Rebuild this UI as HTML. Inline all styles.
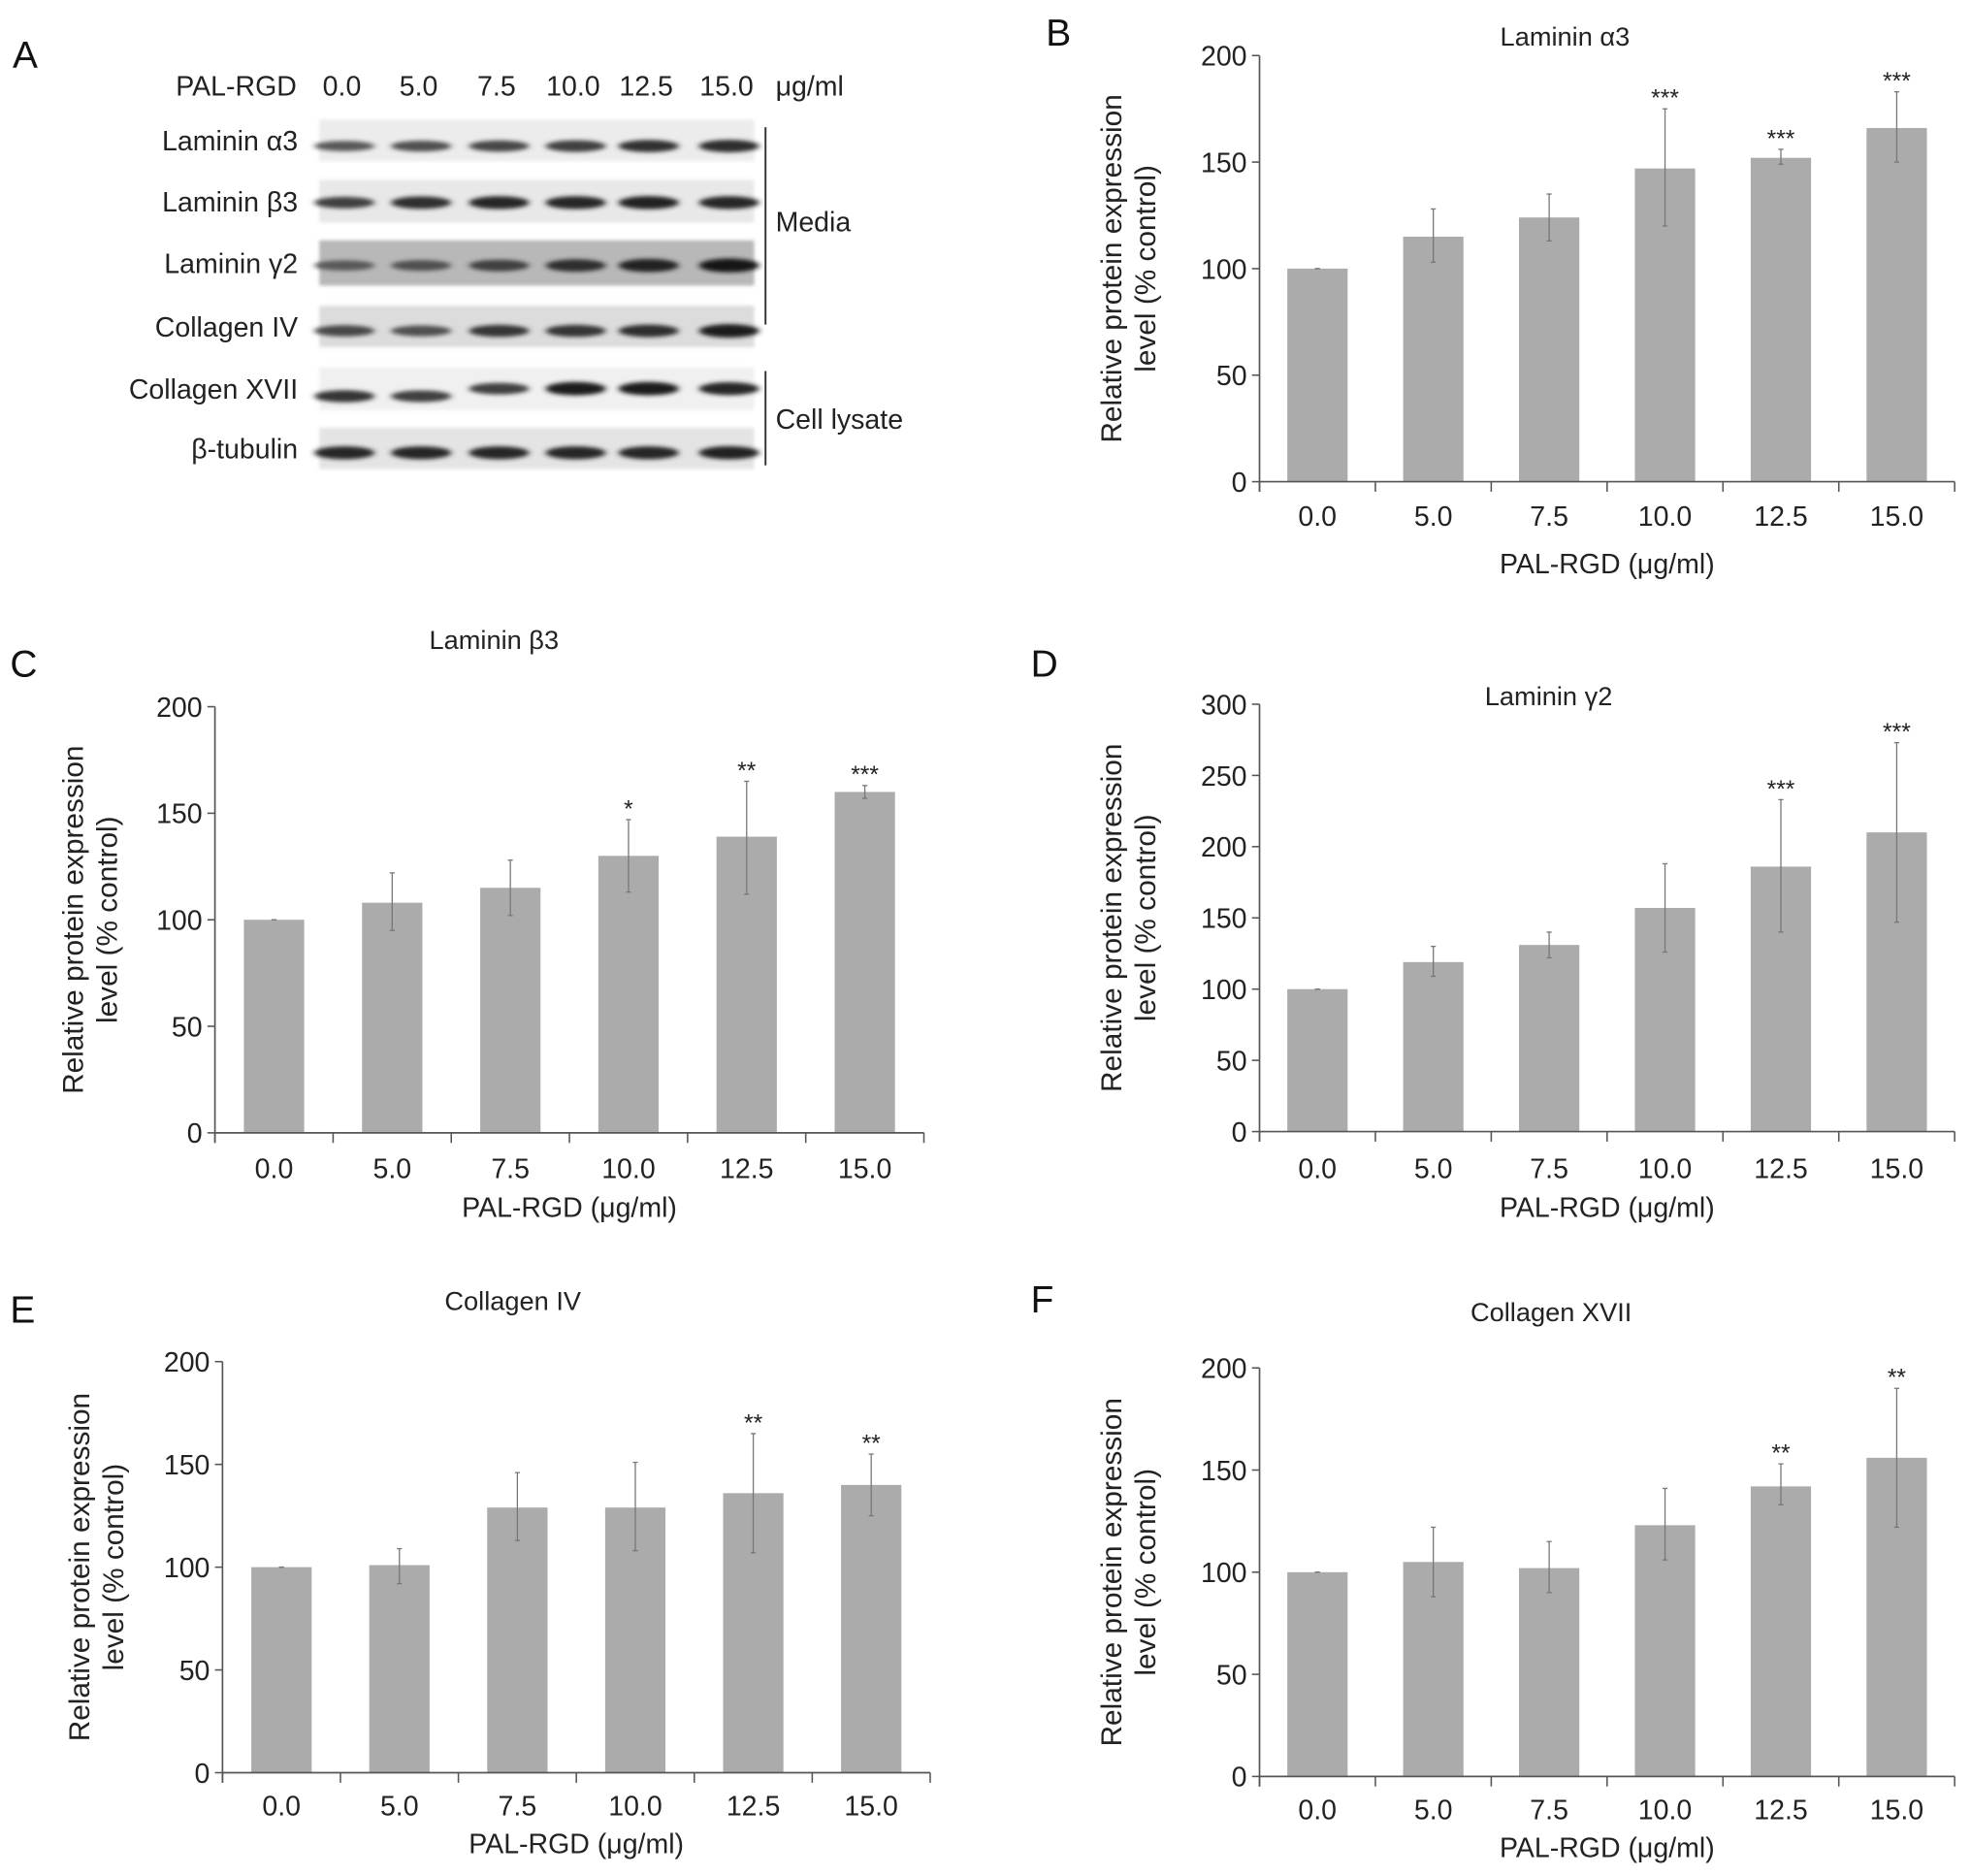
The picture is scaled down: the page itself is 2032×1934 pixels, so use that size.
<!DOCTYPE html>
<html><head><meta charset="utf-8"><style>
html,body{margin:0;padding:0;background:#fff;}
svg{display:block;font-family:"Liberation Sans",Arial,sans-serif;}
</style></head><body>
<svg id="fig" width="2032" height="1934" viewBox="0 0 1568 1492" xmlns="http://www.w3.org/2000/svg">
<defs>
<filter id="blur" x="-30%" y="-100%" width="160%" height="300%"><feGaussianBlur stdDeviation="2.5 1.6"/></filter>
<filter id="blur2"><feGaussianBlur stdDeviation="1.5"/></filter>
</defs>
<g id="panelA"></g>
<g id="charts"></g>
</svg>
<script>
const categories = ["0.0","5.0","7.5","10.0","12.5","15.0"];
// Panel B – Laminin α3
const valuesB = [100,115,124,147,152,166];
const errLoB = [100,103,113,120,149,150];
const errHiB = [100,128,135,175,156,183];
const starsB = ["","","","***","***","***"];
// Panel C – Laminin β3
const valuesC = [100,108,115,130,139,160];
const errLoC = [100,95,102,113,112,157];
const errHiC = [100,122,128,147,165,163];
const starsC = ["","","","*","**","***"];
// Panel D – Laminin γ2
const valuesD = [100,119,131,157,186,210];
const errLoD = [100,109,122,126,140,147];
const errHiD = [100,130,140,188,233,273];
const starsD = ["","","","","***","***"];
// Panel E – Collagen IV
const valuesE = [100,101,129,129,136,140];
const errLoE = [100,92,113,108,107,125];
const errHiE = [100,109,146,151,165,155];
const starsE = ["","","","","**","**"];
// Panel F – Collagen XVII
const valuesF = [100,105,102,123,142,156];
const errLoF = [100,88,90,106,133,122];
const errHiF = [100,122,115,141,153,190];
const starsF = ["","","","","**","**"];
// Blot band intensities (0..1)
const blotRows = ["Laminin α3","Laminin β3","Laminin γ2","Collagen IV","Collagen XVII","β-tubulin"];
const bandA3 = [0.6,0.65,0.7,0.75,0.82,0.85];
const bandB3 = [0.75,0.85,0.9,0.9,0.92,0.88];
const bandG2 = [0.6,0.65,0.75,0.85,0.92,1.0];
const bandC4 = [0.7,0.65,0.8,0.8,0.85,0.95];
const bandC17 = [0.8,0.75,0.75,0.95,0.95,0.9];
const bandTub = [0.9,0.9,0.9,0.9,0.9,0.92];

const NS="http://www.w3.org/2000/svg";
function mk(tag,attrs,parent){const e=document.createElementNS(NS,tag);for(const k in attrs)e.setAttribute(k,attrs[k]);parent.appendChild(e);return e;}
function txt(s,attrs,parent){const e=mk('text',attrs,parent);e.textContent=s;return e;}
const charts=document.getElementById('charts');

const panels=[
 {id:'B',letter:[832,36],title:'Laminin α3',titleXY:[1245,36],ax:1002,ax2:1555,y0:383,yTop:44,max:200,step:50,vals:valuesB,lo:errLoB,hi:errHiB,stars:starsB,tickY:418,labY:456,ylabX:892},
 {id:'C',letter:[8,538],title:'Laminin β3',titleXY:[393,516],ax:171,ax2:735,y0:901,yTop:562,max:200,step:50,vals:valuesC,lo:errLoC,hi:errHiC,stars:starsC,tickY:937,labY:968,ylabX:66},
 {id:'D',letter:[820,538],title:'Laminin γ2',titleXY:[1232,561],ax:1002,ax2:1555,y0:900,yTop:560,max:300,step:50,vals:valuesD,lo:errLoD,hi:errHiD,stars:starsD,tickY:937,labY:968,ylabX:892},
 {id:'E',letter:[8,1052],title:'Collagen IV',titleXY:[408,1042],ax:177,ax2:740,y0:1410,yTop:1083,max:200,step:50,vals:valuesE,lo:errLoE,hi:errHiE,stars:starsE,tickY:1444,labY:1474,ylabX:71},
 {id:'F',letter:[820,1044],title:'Collagen XVII',titleXY:[1234,1051],ax:1002,ax2:1555,y0:1413,yTop:1088,max:200,step:50,vals:valuesF,lo:errLoF,hi:errHiF,stars:starsF,tickY:1447,labY:1477,ylabX:892}
];
panels.forEach(p=>{
 const g=mk('g',{},charts);
 
 
 const L=txt(p.id,{x:p.letter[0],y:p.letter[1],'font-size':30,fill:'#111'},g);
 
 
 const T=txt(p.title,{x:p.titleXY[0],y:p.titleXY[1],'font-size':21,'text-anchor':'middle',fill:'#222'},g);
 
 
 const yS=v=>p.y0-(v/p.max)*(p.y0-p.yTop);
 const cw=(p.ax2-p.ax)/categories.length;
 const xC=i=>p.ax+cw*(i+0.5);
 p.vals.forEach((v,i)=>{
  const b=mk('rect',{x:xC(i)-24,y:yS(v),width:48,height:p.y0-yS(v),fill:'#ababab'},g);
  
  
  const e=mk('line',{x1:xC(i),x2:xC(i),y1:yS(p.lo[i]),y2:yS(p.hi[i]),stroke:'#777','stroke-width':1},g);
  
  
  mk('line',{x1:xC(i)-2,x2:xC(i)+2,y1:yS(p.hi[i]),y2:yS(p.hi[i]),stroke:'#777','stroke-width':1},g);
  mk('line',{x1:xC(i)-2,x2:xC(i)+2,y1:yS(p.lo[i]),y2:yS(p.lo[i]),stroke:'#777','stroke-width':1},g);
  if(p.stars[i]){
   const s=txt(p.stars[i],{x:xC(i),y:yS(p.hi[i])-2,'font-size':19,'text-anchor':'middle',fill:'#222'},g);
   
   
  }
  const tl=txt(categories[i],{x:xC(i),y:p.tickY,'font-size':22,'text-anchor':'middle',fill:'#222'},g);
  
  
 });
 const ya=mk('line',{x1:p.ax,x2:p.ax,y1:p.yTop,y2:p.y0+8,stroke:'#555','stroke-width':1.3},g);
 
 
 const xa=mk('line',{x1:p.ax,x2:p.ax2,y1:p.y0,y2:p.y0,stroke:'#555','stroke-width':1.3},g);
 
 
 for(let i=0;i<=categories.length;i++){
  mk('line',{x1:p.ax+cw*i,x2:p.ax+cw*i,y1:p.y0,y2:p.y0+8,stroke:'#555','stroke-width':1.2},g);
 }
 for(let v=0;v<=p.max;v+=p.step){
  mk('line',{x1:p.ax-6,x2:p.ax,y1:yS(v),y2:yS(v),stroke:'#555','stroke-width':1.2},g);
  const yl=txt(String(v),{x:p.ax-10,y:yS(v)+8,'font-size':22,'text-anchor':'end',fill:'#222'},g);
  
  
 }
 const xt=txt('PAL-RGD (μg/ml)',{x:(p.ax+p.ax2)/2,y:p.labY,'font-size':22,'text-anchor':'middle',fill:'#222'},g);
 
 
 const cy=(p.y0+p.yTop)/2;
 const yt=mk('text',{transform:`translate(${p.ylabX},${cy}) rotate(-90)`,'font-size':23,'text-anchor':'middle',fill:'#222'},g);
 
 
 const t1=mk('tspan',{x:0,y:0},yt);t1.textContent='Relative protein expression';
 const t2=mk('tspan',{x:0,y:27},yt);t2.textContent='level (% control)';
});

// Panel A – western blot
const A=document.getElementById('panelA');
const la=txt('A',{x:10,y:54,'font-size':30,fill:'#111'},A);


const hdr=txt('PAL-RGD',{x:236,y:76,'font-size':22,'text-anchor':'end',fill:'#222'},A);


const laneX=[272,333,395,456,514,578];
categories.forEach((c,i)=>{
 const t=txt(c,{x:laneX[i],y:76,'font-size':22,'text-anchor':'middle',fill:'#222'},A);
 
 
});
const un=txt('μg/ml',{x:617,y:76,'font-size':22,fill:'#222'},A);


const stripY=[95,143,191,243,292,340];
const stripH=[33,34,36,33,34,33];
const stripBg=['#ececec','#e8e8e8','#b8b8b8','#dcdcdc','#f0f0f0','#e4e4e4'];
const bandDY=[21,18,20,20,17,20];
const bandSets=[bandA3,bandB3,bandG2,bandC4,bandC17,bandTub];
blotRows.forEach((r,k)=>{
 const lbl=txt(r,{x:237,y:stripY[k]+stripH[k]/2+8,'font-size':22,'text-anchor':'end',fill:'#222'},A);
 
 
 const s=mk('rect',{x:254,y:stripY[k],width:346,height:stripH[k],fill:stripBg[k],filter:'url(#blur2)'},A);
 
 
 bandSets[k].forEach((v,i)=>{
  const dy=(k===4 && i<2)?6:0;
  const c=Math.round(190-170*v);
  const b=mk('ellipse',{cx:laneX[i]+2,cy:stripY[k]+bandDY[k]+dy,rx:24,ry:2+3.5*v,fill:`rgb(${c},${c},${c})`,filter:'url(#blur)'},A);
  
  
 });
});
const br1=mk('line',{x1:609,x2:609,y1:101,y2:258,stroke:'#333','stroke-width':1.5},A);


const m=txt('Media',{x:617,y:184,'font-size':22,fill:'#222'},A);


const br2=mk('line',{x1:609,x2:609,y1:295,y2:370,stroke:'#333','stroke-width':1.5},A);


const cl=txt('Cell lysate',{x:617,y:341,'font-size':22,fill:'#222'},A);


</script>
</body></html>
